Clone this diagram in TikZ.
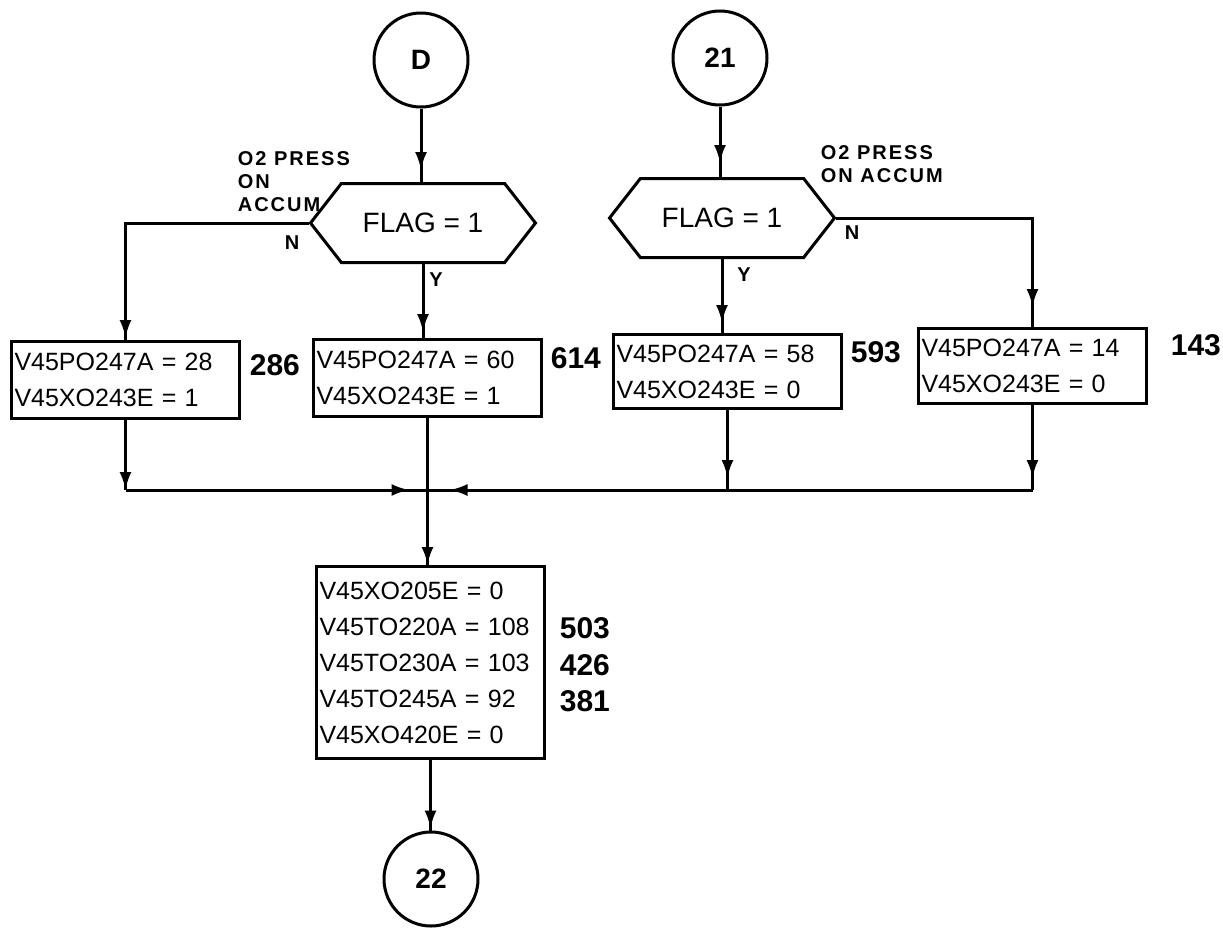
\documentclass[tikz,border=0pt]{standalone}
\usepackage{fontspec}
\setmainfont{Liberation Sans}
\usetikzlibrary{arrows.meta,decorations.markings,shapes.symbols}
\begin{document}
\begin{tikzpicture}[x=1pt,y=-1pt,line width=3pt,
  every node/.style={font=\fontsize{25}{36}\selectfont},
  conn/.style={draw,circle,minimum size=94pt,inner sep=0pt,font=\fontsize{28}{30}\selectfont\bfseries},
  hexa/.style={draw,signal,signal to=west and east,signal pointer angle=104,minimum width=225pt,minimum height=79pt,inner sep=0pt,font=\fontsize{28}{30}\selectfont},
  boxn/.style={draw,rectangle,anchor=north west,align=left,text width=222pt,inner xsep=3pt,inner ysep=0pt,minimum width=228pt},
  num/.style={anchor=west,font=\fontsize{30}{36}\selectfont\bfseries},
  lbl/.style={anchor=north west,align=left,font=\fontsize{20}{23}\selectfont\bfseries\addfontfeature{LetterSpace=10}},
  yn/.style={font=\fontsize{20}{24}\selectfont\bfseries},
  arr/.style={postaction={decorate},decoration={markings,mark=at position #1 with {\arrow{Latex[length=18pt,width=12pt]}}}}]
\useasboundingbox (0,0) rectangle (1223,929);

\node[conn] (D) at (421,60) {D};
\node[conn] (C21) at (720,58) {21};
\node[conn] (C22) at (431,879) {22};

\node[hexa] (h1) at (423,223) {FLAG = 1};
\node[hexa] (h2) at (722,218) {FLAG = 1};

\node[boxn,minimum height=77pt] (b1) at (10,340) {V45PO247A = 28\\V45XO243E = 1};
\node[boxn,minimum height=77pt] (b2) at (312,338) {V45PO247A = 60\\V45XO243E = 1};
\node[boxn,minimum height=74pt] (b3) at (612,333) {V45PO247A = 58\\V45XO243E = 0};
\node[boxn,minimum height=75pt] (b4) at (917,327) {V45PO247A = 14\\V45XO243E = 0};
\node[boxn,minimum height=192pt] (b5) at (315,565) {V45XO205E = 0\\V45TO220A = 108\\V45TO230A = 103\\V45TO245A = 92\\V45XO420E = 0};

\node[num] (n1) at (245,365) {286};
\node[num] (n2) at (546,358) {614};
\node[num] (n3) at (846,352) {593};
\node[num] (n4) at (1166,345) {143};
\node[num] (n5) at (555,628) {503};
\node[num] (n6) at (555,665) {426};
\node[num] (n7) at (555,701) {381};

\node[lbl] (t1) at (233,147) {O2 PRESS\\ON\\ACCUM};
\node[lbl] (t2) at (816,141) {O2 PRESS\\ON ACCUM};
\node[yn] (N1) at (292,243) {N};
\node[yn] (Y1) at (436,280) {Y};
\node[yn] (N2) at (852,233) {N};
\node[yn] (Y2) at (744,275) {Y};

\coordinate (J) at (b2.south |- 0,490);

\draw[arr=-12pt] (D.south) -- (D.south |- h1.north);
\draw[arr=-14pt] (C21.south) -- (C21.south |- h2.north);
\draw[arr=-2pt] (h1.west) -| (b1.north);
\draw[arr=-6pt] (h1.south) -- (h1.south |- b2.north);
\draw[arr=-10pt] (h2.south) -- (h2.south |- b3.north);
\draw[arr=-20pt] (h2.east) -| (b4.north);

\draw[arr=1] (b1.south) -- (b1.south |- J);
\draw[arr=-12pt] (b3.south) -- (b3.south |- J);
\draw[arr=-12pt] (b4.south) -- (b4.south |- J);
\draw[arr=-18pt] (b1.south |- J) -- (J);
\draw[arr=-22pt] (b4.south |- J) -- (J);
\draw (b2.south) -- (J);
\draw[arr=1] (J) -- (J |- b5.north);
\draw[arr=-2pt] (b5.south) -- (b5.south |- C22.north);
\end{tikzpicture}
\end{document}
